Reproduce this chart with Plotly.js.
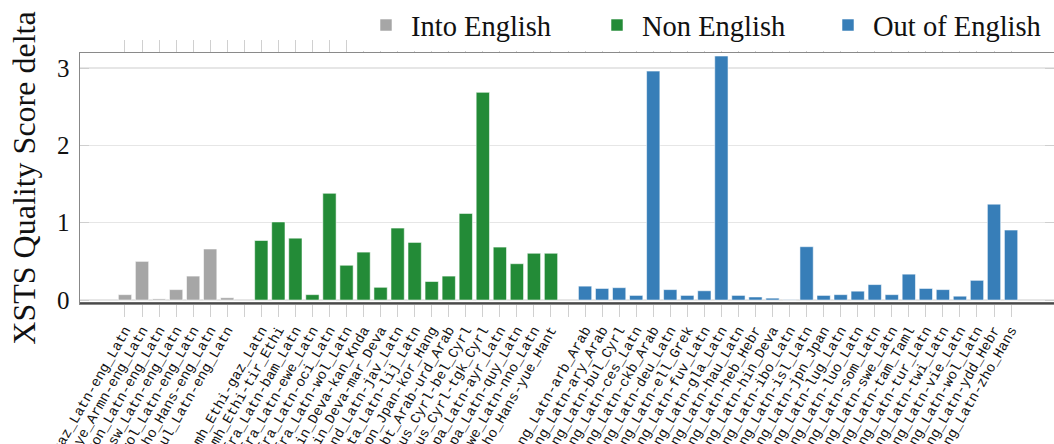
<!DOCTYPE html>
<html>
<head>
<meta charset="utf-8">
<script src="https://cdn.plot.ly/plotly-3.0.1.min.js"></script>
<style>html,body{margin:0;padding:0;background:#fff;}#chart{width:1054px;height:444px;}</style>
</head>
<body>
<div id="chart"></div>
<script>
const intoLabels = ["gaz_Latn-eng_Latn","hye_Armn-eng_Latn","ron_Latn-eng_Latn","ssw_Latn-eng_Latn","wol_Latn-eng_Latn","zho_Hans-eng_Latn","zul_Latn-eng_Latn"];
const intoValues = [0.07, 0.50, 0.015, 0.135, 0.31, 0.66, 0.03];

const nonLabels = ["amh_Ethi-gaz_Latn","amh_Ethi-tir_Ethi","fra_Latn-bam_Latn","fra_Latn-ewe_Latn","fra_Latn-oci_Latn","fra_Latn-wol_Latn","hin_Deva-kan_Knda","hin_Deva-mar_Deva","ind_Latn-jav_Latn","ita_Latn-lij_Latn","jpn_Jpan-kor_Hang","pbt_Arab-urd_Arab","rus_Cyrl-bel_Cyrl","rus_Cyrl-tgk_Cyrl","spa_Latn-ayr_Latn","spa_Latn-quy_Latn","swe_Latn-nno_Latn","zho_Hans-yue_Hant"];
const nonValues = [0.77, 1.01, 0.80, 0.07, 1.38, 0.45, 0.62, 0.165, 0.93, 0.745, 0.24, 0.31, 1.12, 2.685, 0.685, 0.47, 0.605, 0.605];

const outLabels = ["eng_Latn-arb_Arab","eng_Latn-ary_Arab","eng_Latn-bul_Cyrl","eng_Latn-ces_Latn","eng_Latn-ckb_Arab","eng_Latn-deu_Latn","eng_Latn-ell_Grek","eng_Latn-fuv_Latn","eng_Latn-gla_Latn","eng_Latn-hau_Latn","eng_Latn-heb_Hebr","eng_Latn-hin_Deva","eng_Latn-ibo_Latn","eng_Latn-isl_Latn","eng_Latn-jpn_Jpan","eng_Latn-lug_Latn","eng_Latn-luo_Latn","eng_Latn-som_Latn","eng_Latn-swe_Latn","eng_Latn-tam_Taml","eng_Latn-tur_Latn","eng_Latn-twi_Latn","eng_Latn-vie_Latn","eng_Latn-wol_Latn","eng_Latn-ydd_Hebr","eng_Latn-zho_Hans"];
const outValues = [0.18, 0.15, 0.16, 0.06, 2.96, 0.135, 0.06, 0.12, 3.155, 0.06, 0.04, 0.025, 0.004, 0.69, 0.06, 0.07, 0.115, 0.20, 0.07, 0.335, 0.15, 0.135, 0.05, 0.255, 1.24, 0.905];

const seriesNames = ["Into English", "Non English", "Out of English"];
const seriesColors = ["#a6a6a6", "#238b37", "#377eb8"];
const yTickVals = [0, 1, 2, 3];

// positions: one empty slot between groups
const groups = [[intoLabels, intoValues], [nonLabels, nonValues], [outLabels, outValues]];
let pos = 0;
const tickvals = [], ticktext = [];
const traces = groups.map((g, gi) => {
  if (gi > 0) { tickvals.push(pos); ticktext.push(""); pos += 1; }
  const xs = g[0].map((lab, i) => { tickvals.push(pos + i); ticktext.push(lab); return pos + i; });
  pos += g[0].length;
  return {
    type: "bar",
    name: seriesNames[gi],
    x: xs,
    y: g[1],
    marker: {color: seriesColors[gi], line: {color: "rgba(255,255,255,0.55)", width: 1}},
    hoverinfo: "x+y"
  };
});

const layout = {
  width: 1054, height: 444,
  margin: {l: 80, r: 0, t: 47, b: 141},
  paper_bgcolor: "#fff", plot_bgcolor: "#fff",
  bargap: 0.22,
  showlegend: true,
  legend: {
    orientation: "h", x: 1, xanchor: "right", y: 1.008, yanchor: "bottom",
    bgcolor: "#fff", font: {family: "Liberation Serif", size: 28.5, color: "#111"},
    itemwidth: 40, entrywidth: 176, entrywidthmode: "pixels", tracegroupgap: 0
  },
  xaxis: {
    range: [-2.64, 54.52],
    tickmode: "array", tickvals: tickvals, ticktext: ticktext,
    tickangle: -60,
    tickfont: {family: "Liberation Mono", size: 14, color: "#111"},
    ticks: "outside", ticklen: 12, tickcolor: "#d0d0d0", tickwidth: 1,
    showline: true, linecolor: "#8a8a8a", linewidth: 1.5, mirror: "allticks",
    showgrid: false, zeroline: false
  },
  yaxis: {
    range: [-0.038, 3.194],
    tickmode: "array", tickvals: yTickVals, ticktext: yTickVals.map(String),
    tickfont: {family: "Liberation Serif", size: 25, color: "#111"},
    ticks: "inside", ticklen: 9, tickcolor: "#cfcfcf", ticklabelstandoff: 4,
    showline: true, linecolor: "#888", linewidth: 1.5, mirror: "ticks",
    showgrid: true, gridcolor: "#e6e6e6", gridwidth: 1.5, zeroline: false,
    title: {text: "XSTS Quality Score delta", font: {family: "Liberation Serif", size: 32, color: "#111"}, standoff: 12}
  },
  shapes: [{type: "line", xref: "paper", yref: "paper", x0: 0, x1: 1, y0: 0, y1: 0,
            line: {color: "#333", width: 1.5}, layer: "above"}]
};

Plotly.newPlot("chart", traces, layout, {displayModeBar: false, staticPlot: true});
</script>
</body>
</html>
